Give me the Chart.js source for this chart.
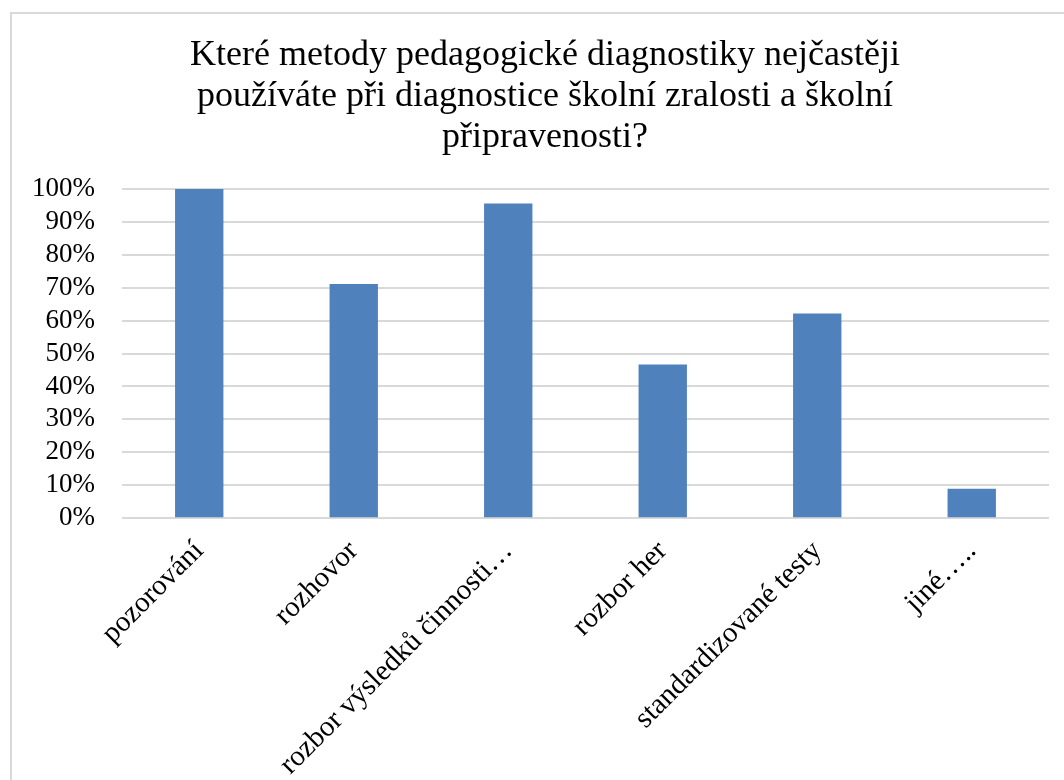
<!DOCTYPE html>
<html>
<head>
<meta charset="utf-8">
<script src="https://cdn.jsdelivr.net/npm/chart.js@4/dist/chart.umd.min.js"></script>
<style>
  html, body { margin: 0; padding: 0; background: #fff; overflow: hidden; }
  #frame {
    position: absolute; left: 10px; top: 12px; width: 1100px; height: 820px;
    border: 2px solid #d9d9d9; box-sizing: border-box;
  }
  #wrap { position: absolute; left: 0; top: 0; width: 1064px; height: 780px; }
</style>
</head>
<body>
<div id="frame"></div>
<div id="wrap"><canvas id="methods-chart"></canvas></div>
<script>
// Methods of pedagogical diagnostics (share of respondents, %)
const categories = [
  "pozorování",
  "rozhovor",
  "rozbor výsledků činnosti…",
  "rozbor her",
  "standardizované testy",
  "jiné….."
];
const shares = [100, 71.1, 95.6, 46.7, 62.2, 8.9];
const titleLines = [
  "Které metody pedagogické diagnostiky nejčastěji",
  "používáte při diagnostice školní zralosti a školní",
  "připravenosti?"
];
const yMax = 100;
const yStep = 10;

const serif = "'Liberation Serif', 'Times New Roman', serif";

// the original chart frame is cut off on the right, so its title sits right of the canvas centre
const offsetTitle = {
  id: "offsetTitle",
  afterDraw(chart) {
    const c = chart.ctx;
    c.save();
    c.fillStyle = "#000";
    c.font = "36px " + serif;
    c.textAlign = "center";
    c.textBaseline = "alphabetic";
    titleLines.forEach((line, i) => {
      c.fillText(line, 545, 65 + i * 41);
    });
    c.restore();
  }
};

const ctx = document.getElementById("methods-chart").getContext("2d");
new Chart(ctx, {
  type: "bar",
  data: {
    labels: categories,
    datasets: [
      {
        data: shares,
        backgroundColor: "#4f81bd",
        borderWidth: 0,
        categoryPercentage: 1,
        barPercentage: 0.313
      }
    ]
  },
  options: {
    responsive: true,
    maintainAspectRatio: false,
    animation: false,
    layout: {
      padding: { left: 5, right: 15, top: 189, bottom: -10 }
    },
    plugins: {
      legend: { display: false },
      tooltip: { enabled: false }
    },
    scales: {
      x: {
        grid: { display: false },
        border: { display: false },
        ticks: {
          color: "#000",
          font: { family: serif, size: 29 },
          minRotation: 45,
          maxRotation: 45,
          autoSkip: false,
          padding: 8
        }
      },
      y: {
        min: 0,
        max: yMax,
        border: { display: false },
        grid: { color: "#d9d9d9", lineWidth: 2, drawTicks: false },
        ticks: {
          stepSize: yStep,
          autoSkip: false,
          color: "#000",
          font: { family: serif, size: 27 },
          padding: 27,
          callback: (v) => v + "%"
        }
      }
    }
  },
  plugins: [offsetTitle]
});
</script>
</body>
</html>
